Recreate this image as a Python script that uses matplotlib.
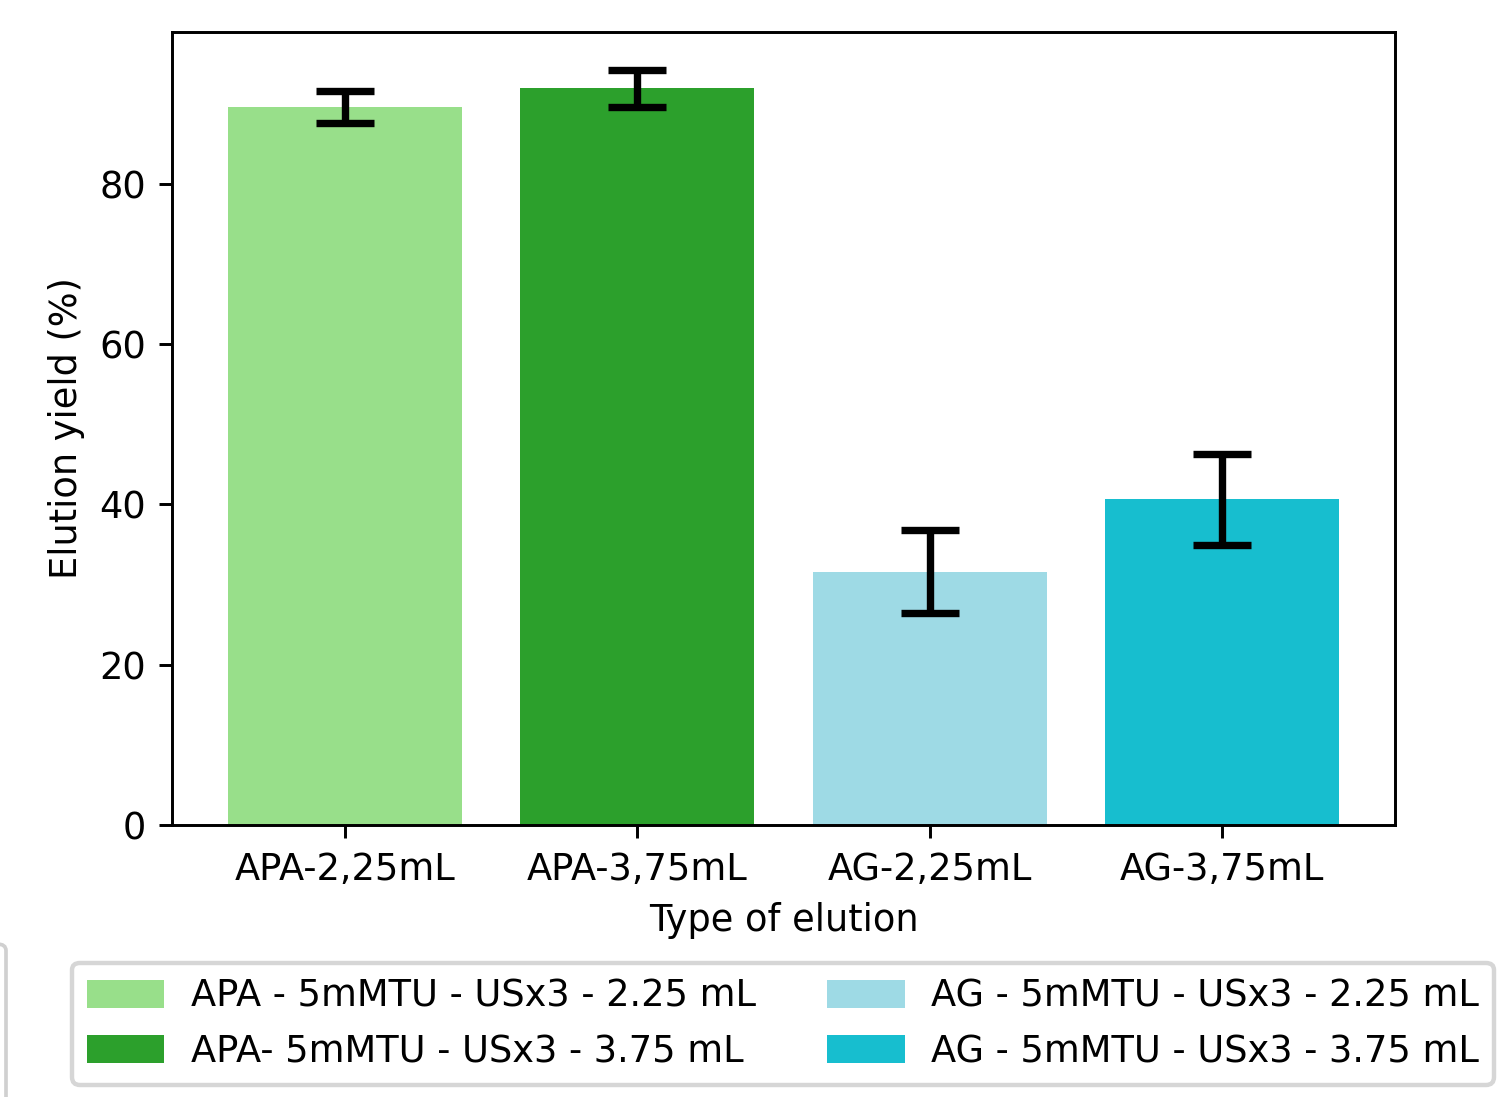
import numpy as np
import matplotlib
matplotlib.use('Agg')
import matplotlib.pyplot as plt
from matplotlib.patches import FancyBboxPatch

categories = ['APA-2,25mL', 'APA-3,75mL', 'AG-2,25mL', 'AG-3,75mL']
yields = [89.5, 91.9, 31.6, 40.6]
errors = [2.0, 2.3, 5.2, 5.7]
labels = ['APA - 5mMTU - USx3 - 2.25 mL', 'APA- 5mMTU - USx3 - 3.75 mL',
          'AG - 5mMTU - USx3 - 2.25 mL', 'AG - 5mMTU - USx3 - 3.75 mL']
colors = ['#98df8a', '#2ca02c', '#9edae5', '#17becf']

dpi = 265
W, H = 1512, 1097
fig = plt.figure(figsize=(W / dpi, H / dpi), dpi=dpi)
ax = fig.add_axes([172 / W, 1 - 825 / H, (1395 - 172) / W, (825 - 32) / H])

x = np.arange(len(categories))
bars = ax.bar(x, yields, width=0.8, color=colors, label=labels)
ax.errorbar(x, yields, yerr=errors, fmt='none', ecolor='k',
            elinewidth=2, capsize=8, capthick=2)

ax.set_xticks(x)
ax.set_xticklabels(categories)
ax.set_xlabel('Type of elution')
ax.set_ylabel('Elution yield (%)')

leg = fig.legend(bars, labels, loc='upper center', ncol=2,
                 bbox_to_anchor=(783 / W, 1 - 963 / H), borderaxespad=0,
                 handlelength=2.1, handleheight=0.8, handletextpad=0.72,
                 borderpad=0.4, columnspacing=1.95, frameon=True)
leg.get_frame().set_linewidth(1.2)

# partial frame of another box at the left edge
fig.patches.append(FancyBboxPatch((-0.1, -0.1), 0.1 + 6 / W, 0.1 + (1097 - 944) / H,
                                  boxstyle='round,pad=0,rounding_size=0.006',
                                  transform=fig.transFigure, facecolor='none',
                                  edgecolor='#d0d0d0', linewidth=1.0))

fig.savefig('out.png', dpi=dpi)
